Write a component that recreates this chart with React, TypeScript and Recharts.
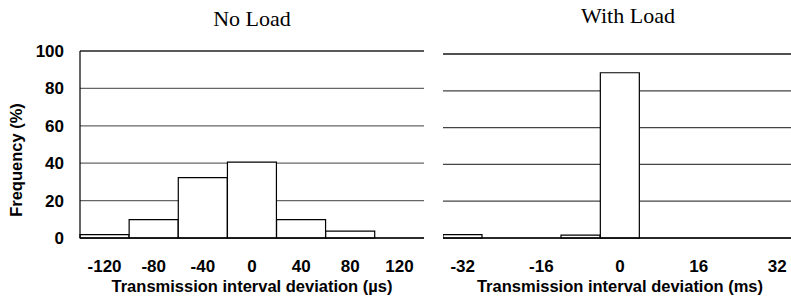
import { BarChart, Bar, XAxis, YAxis, CartesianGrid, ReferenceLine, Label } from "recharts";

// histogram bins (bin centres) and frequencies in %
const noLoadBins = ["-120", "-80", "-40", "0", "40", "80", "120"];
const noLoadFreq = [1.8, 9.8, 32.3, 40.6, 9.8, 3.7, 0];

const withLoadBins = ["-32", "-24", "-16", "-8", "0", "8", "16", "24", "32"];
const withLoadFreq = [1.8, 0, 0, 1.6, 89.8, 0, 0, 0, 0];
const withLoadTickLabels = ["-32", "-16", "0", "16", "32"];

const yTicks = [0, 20, 40, 60, 80, 100];

const noLoadData = noLoadBins.map((bin, i) => ({ bin, freq: noLoadFreq[i] }));
const withLoadData = withLoadBins.map((bin, i) => ({ bin, freq: withLoadFreq[i] }));

const sans = "'Liberation Sans', Arial, sans-serif";
const serif = "'Liberation Serif', 'Times New Roman', serif";
const tickStyle = { fill: "#000", fontFamily: sans, fontWeight: 700, fontSize: 17 };
const axisTitleStyle = { fill: "#000", fontFamily: sans, fontWeight: 700, fontSize: 16.5 };

export default function App() {
  return (
    <div
      style={{
        position: "absolute",
        left: 0,
        top: 0,
        width: 791,
        height: 299,
        overflow: "hidden",
        background: "#fff",
      }}
    >
      <div style={{ position: "absolute", left: 0, top: 0 }}>
        <BarChart
          width={430}
          height={299}
          data={noLoadData}
          margin={{ top: 51, right: 6, bottom: 0, left: 20 }}
          barCategoryGap={0}
        >
          <CartesianGrid vertical={false} stroke="#666" strokeWidth={1.2} />
          <XAxis
            dataKey="bin"
            interval={0}
            height={61}
            tickLine={false}
            tickSize={0}
            tickMargin={22}
            axisLine={{ stroke: "#000", strokeWidth: 1.5 }}
            tick={tickStyle}
          >
            <Label
              value="Transmission interval deviation (µs)"
              position="insideBottom"
              offset={7}
              style={axisTitleStyle}
            />
          </XAxis>
          <YAxis
            domain={[0, 100]}
            ticks={yTicks}
            width={60}
            tickLine={false}
            tickSize={0}
            tickMargin={16}
            axisLine={{ stroke: "#000", strokeWidth: 1.2 }}
            tick={tickStyle}
          />
          <Bar dataKey="freq" fill="#fff" stroke="#000" strokeWidth={1.2} isAnimationActive={false} />
          <ReferenceLine y={100} stroke="#000" strokeWidth={1.2} />
          <ReferenceLine x="120" position="end" stroke="#000" strokeWidth={1.2} />
        </BarChart>
      </div>

      <div style={{ position: "absolute", left: 443, top: 0 }}>
        <BarChart
          width={354}
          height={299}
          data={withLoadData}
          margin={{ top: 54, right: 0, bottom: 0, left: 0 }}
          barCategoryGap={0}
        >
          <CartesianGrid vertical={false} stroke="#444" strokeWidth={1.2} />
          <XAxis
            dataKey="bin"
            interval={0}
            height={61}
            tickLine={false}
            tickSize={0}
            tickMargin={22}
            axisLine={{ stroke: "#000", strokeWidth: 1.5 }}
            tick={tickStyle}
            tickFormatter={(v: string) => (withLoadTickLabels.includes(v) ? v : "")}
          >
            <Label
              value="Transmission interval deviation (ms)"
              position="insideBottom"
              offset={7}
              style={axisTitleStyle}
            />
          </XAxis>
          <YAxis hide domain={[0, 100]} ticks={yTicks} />
          <Bar dataKey="freq" fill="#fff" stroke="#000" strokeWidth={1.2} isAnimationActive={false} />
          <ReferenceLine y={100} stroke="#000" strokeWidth={1.2} />
        </BarChart>
      </div>

      <svg
        width={791}
        height={299}
        style={{ position: "absolute", left: 0, top: 0, pointerEvents: "none" }}
      >
        <text x={252} y={26} textAnchor="middle" fontFamily={serif} fontSize={22} fill="#000">
          No Load
        </text>
        <text x={628} y={23} textAnchor="middle" fontFamily={serif} fontSize={22} fill="#000">
          With Load
        </text>
        <text
          x={22}
          y={160}
          transform="rotate(-90 22 160)"
          textAnchor="middle"
          fontFamily={sans}
          fontWeight={700}
          fontSize={16.5}
          fill="#000"
        >
          Frequency (%)
        </text>
      </svg>
    </div>
  );
}
